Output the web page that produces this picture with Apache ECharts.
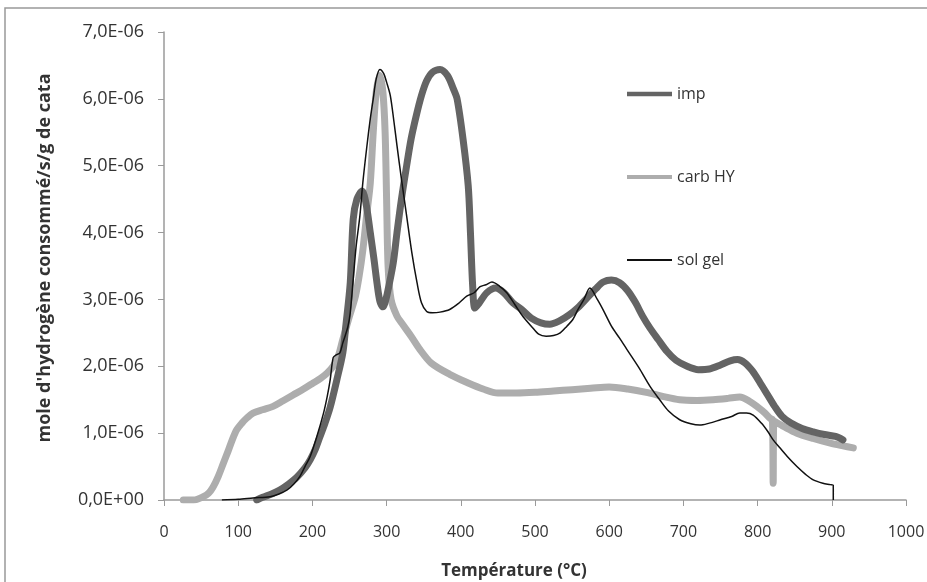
<!DOCTYPE html>
<html>
<head>
<meta charset="utf-8">
<script src="https://cdn.jsdelivr.net/npm/echarts@6/dist/echarts.min.js"></script>
<style>html,body{margin:0;padding:0;background:#fff}#c{width:927px;height:582px}</style>
</head>
<body>
<div id="c"></div>
<script>
// Values in units of 1E-06 mol H2 / s / g
const SCALE = 1e-6;
const impX = [125,133,145,156,168,179,190,197,204,210,217,224,233,241,245,251,255,260,267,272,278,283,287,291,295,299,303,309,314,320,327,333,340,347,354,362,372,382,390,395,403,410,413,416,419,425,435,447,458,470,482,495,508,520,533,546,558,570,582,592,603,614,625,635,645,655,666,678,690,705,720,735,750,763,773,783,793,803,813,823,833,845,860,875,890,905,915];
const impY = [0,0.04,0.09,0.15,0.24,0.34,0.48,0.6,0.76,0.94,1.15,1.39,1.8,2.2,2.6,3.25,4.2,4.5,4.62,4.45,4.0,3.6,3.25,2.97,2.89,3.0,3.2,3.55,4.0,4.5,5.0,5.4,5.75,6.05,6.27,6.4,6.44,6.35,6.15,6.0,5.4,4.7,4.0,3.2,2.87,2.95,3.1,3.17,3.1,2.95,2.85,2.72,2.65,2.63,2.68,2.77,2.88,3.02,3.16,3.26,3.29,3.25,3.13,2.96,2.75,2.57,2.4,2.22,2.09,2.0,1.95,1.96,2.02,2.08,2.1,2.05,1.93,1.76,1.58,1.4,1.25,1.15,1.07,1.02,0.98,0.95,0.9];

const carbX = [26,40,53,60,66,73,80,86,92,98,105,112,120,133,147,160,174,188,201,211,220,228,234,241,250,258,263,268,273,278,282,286,291,295,298,300,302,306,314,322,333,345,360,385,410,430,450,475,500,525,550,575,600,625,650,672,695,718,740,760,776,790,800,810,817,820,821,822,835,853,875,898,915,929];
const carbY = [0,0,0.05,0.1,0.19,0.35,0.55,0.72,0.9,1.05,1.15,1.23,1.3,1.35,1.4,1.48,1.57,1.66,1.75,1.82,1.9,2.0,2.12,2.4,2.75,3.05,3.35,3.74,4.25,4.74,5.5,6.1,6.35,6.1,5.5,4.5,3.5,3.0,2.75,2.62,2.45,2.25,2.05,1.88,1.75,1.66,1.6,1.6,1.61,1.63,1.65,1.67,1.69,1.66,1.61,1.55,1.5,1.49,1.5,1.52,1.54,1.47,1.39,1.3,1.22,1.2,0.25,1.18,1.1,1.0,0.92,0.85,0.81,0.78];

const solX = [78,100,120,143,155,166,175,183,190,197,206,215,220,224,228,232,237,241,244,248,251,255,259,264,268,273,278,282,286,291,296,300,305,310,314,320,327,334,341,347,354,362,372,385,398,408,418,426,434,442,452,462,473,484,495,505,515,525,534,543,551,558,566,574,584,592,603,614,624,640,655,668,680,695,710,722,735,750,765,776,785,794,805,814,821,830,840,853,865,875,888,898,902,902];
const solY = [0,0.01,0.03,0.05,0.09,0.15,0.24,0.35,0.5,0.65,0.95,1.3,1.55,1.8,2.13,2.17,2.2,2.35,2.45,2.6,2.8,3.3,3.8,4.25,4.75,5.25,5.7,6.0,6.3,6.44,6.38,6.25,6.05,5.65,5.3,4.8,4.25,3.7,3.25,2.95,2.82,2.8,2.81,2.85,2.95,3.05,3.1,3.19,3.22,3.26,3.2,3.1,2.92,2.74,2.6,2.48,2.45,2.46,2.5,2.6,2.7,2.85,3.0,3.17,3.0,2.84,2.6,2.42,2.25,1.98,1.7,1.5,1.33,1.2,1.14,1.12,1.15,1.2,1.25,1.3,1.3,1.27,1.15,1.02,0.9,0.78,0.65,0.5,0.38,0.3,0.25,0.23,0.22,0];

const yTickLabels = ['0,0E+00','1,0E-06','2,0E-06','3,0E-06','4,0E-06','5,0E-06','6,0E-06','7,0E-06'];
const seriesNames = ['imp','carb HY','sol gel'];

function pairs(xs, ys){ return xs.map((x,i)=>[x, ys[i]*SCALE]); }

const chart = echarts.init(document.getElementById('c'), null, {renderer:'canvas'});
const fontMain = "'Open Sans', 'DejaVu Sans', sans-serif";
chart.setOption({
  animation:false,
  backgroundColor:'#fff',
  grid:{left:164, right:21, top:32, bottom:82, containLabel:false, outerBoundsMode:'none'},
  graphic:[{type:'rect', shape:{x:5,y:8,width:1000,height:1000}, style:{fill:'none', stroke:'#999', lineWidth:1.5}, silent:true}],
  legend:{
    orient:'vertical', left:627, top:86, padding:0, itemGap:67, itemWidth:45, itemHeight:14,
    textStyle:{fontFamily:fontMain, fontSize:16, color:'#333'},
    data:[
      {name:seriesNames[0], icon:'path://M0,0L45,0L45,4.5L0,4.5Z', itemStyle:{color:'#646464'}},
      {name:seriesNames[1], icon:'path://M0,0L45,0L45,4L0,4Z', itemStyle:{color:'#adadad'}},
      {name:seriesNames[2], icon:'path://M0,0L45,0L45,2.2L0,2.2Z', itemStyle:{color:'#111'}}
    ]
  },
  xAxis:{
    type:'value', min:0, max:1000, interval:100,
    name:'Température (°C)', nameLocation:'middle', nameGap:63,
    nameTextStyle:{fontFamily:fontMain, fontSize:17, fontWeight:'bold', color:'#333', padding:[0,42,0,0]},
    axisLine:{show:true, onZero:false, lineStyle:{color:'#9a9a9a', width:1.5}},
    axisTick:{show:true, inside:false, length:6, lineStyle:{color:'#9a9a9a'}},
    axisLabel:{margin:24, fontFamily:fontMain, fontSize:16, color:'#333', formatter:(v)=>String(v)},
    splitLine:{show:false}
  },
  yAxis:{
    type:'value', min:0, max:7e-6, interval:1e-6,
    name:"mole d'hydrogène consommé/s/g de cata", nameLocation:'middle', nameGap:110,
    nameTextStyle:{fontFamily:fontMain, fontSize:18, fontWeight:'bold', color:'#333', padding:[0,0,0,16]},
    axisLine:{show:true, lineStyle:{color:'#9a9a9a', width:1.5}},
    axisTick:{show:true, inside:false, length:6, lineStyle:{color:'#9a9a9a'}},
    axisLabel:{margin:20, fontFamily:fontMain, fontSize:18, color:'#333',
      formatter:(v)=>yTickLabels[Math.round(v/SCALE)]},
    splitLine:{show:false}
  },
  series:[
    {name:seriesNames[0], type:'line', symbol:'none', smooth:0.3, data:pairs(impX, impY), lineStyle:{width:7, color:'#646464', cap:'round', join:'round'}, itemStyle:{color:'#646464'}, z:3},
    {name:seriesNames[1], type:'line', symbol:'none', smooth:0.3, data:pairs(carbX, carbY), lineStyle:{width:7, color:'#adadad', cap:'round', join:'round'}, itemStyle:{color:'#adadad'}, z:2},
    {name:seriesNames[2], type:'line', symbol:'none', smooth:0.3, data:pairs(solX, solY), lineStyle:{width:1.5, color:'#111', join:'round'}, itemStyle:{color:'#111'}, z:4}
  ]
});
</script>
</body>
</html>
